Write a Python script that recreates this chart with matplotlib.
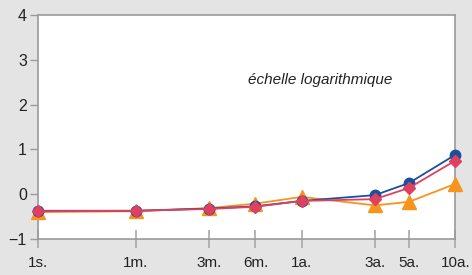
import matplotlib.pyplot as plt
from matplotlib.ticker import NullLocator

# horizons in years (log scale)
horizons = [7 / 365, 1 / 12, 0.25, 0.5, 1, 3, 5, 10]
tick_labels = ["1s.", "1m.", "3m.", "6m.", "1a.", "3a.", "5a.", "10a."]

serie_bleue = [-0.37, -0.37, -0.32, -0.27, -0.15, -0.02, 0.25, 0.88]
serie_rose = [-0.38, -0.37, -0.33, -0.28, -0.15, -0.11, 0.14, 0.75]
serie_orange = [-0.40, -0.38, -0.31, -0.21, -0.06, -0.25, -0.17, 0.23]

BG = "#e4e4e4"
GRID = "#9a9a9a"

plt.rcParams['font.family'] = ['Liberation Sans', 'DejaVu Sans']

fig = plt.figure(figsize=(4.72, 2.75), dpi=100, facecolor=BG)
ax = fig.add_axes([0.0805, 0.131, 0.884, 0.814])
ax.set_facecolor("white")

ax.plot(horizons, serie_orange, color="#f7941d", lw=1.3, marker="^", ms=10, zorder=3, clip_on=False)
ax.plot(horizons, serie_bleue, color="#1a4f9c", lw=1.3, marker="o", ms=7.5, zorder=4, clip_on=False)
ax.plot(horizons, serie_rose, color="#e0405f", lw=1.3, marker="D", ms=6.5, zorder=5, clip_on=False)

ax.set_xscale("log")
ax.set_xlim(horizons[0], horizons[-1])
ax.set_ylim(-1, 4)
ax.set_xticks(horizons)
ax.set_xticklabels(tick_labels)
ax.xaxis.set_minor_locator(NullLocator())
ax.set_yticks([-1, 0, 1, 2, 3, 4])
ax.set_yticklabels(["\u22121", "0", "1", "2", "3", "4"])

for s in ax.spines.values():
    s.set_color(GRID)
    s.set_linewidth(1.2)
    s.set_zorder(2)

ax.tick_params(axis="x", direction="inout", length=13, width=1.2, color="#a8a8a8",
               labelsize=11, labelcolor="#222222", pad=5.5)
ax.tick_params(axis="y", direction="out", length=6, width=1.0, color=GRID,
               labelsize=11.5, labelcolor="#222222", pad=2)

ax.text(0.677, 0.71, "échelle logarithmique", transform=ax.transAxes,
        fontsize=11, style="italic", color="#222222", ha="center", va="center")

fig.savefig("out.png", dpi=100, facecolor=BG)
